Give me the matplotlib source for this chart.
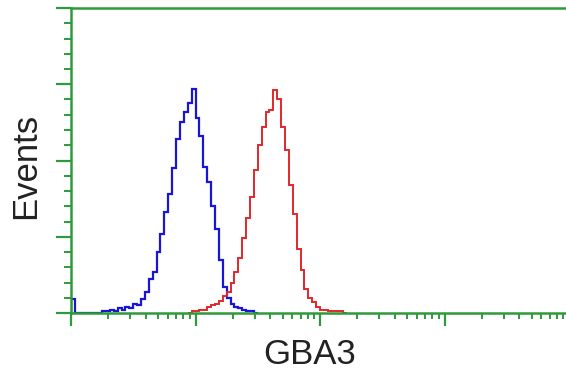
import numpy as np
import matplotlib
matplotlib.use("Agg")
import matplotlib.pyplot as plt
from matplotlib.ticker import LogLocator, MultipleLocator, NullFormatter

plt.rcParams['font.family'] = ['Liberation Sans', 'DejaVu Sans']

# Histogram: 128 log-spaced channels over 4 decades (1 .. 10^4)
n_channels = 128
decades = 4
# blue (control) counts: spike in first channel, then channels starting at 8
blue_spike = [9]
blue_start = 8
blue_counts = [1, 1, 2, 1, 3, 2, 4, 3, 6, 5, 9, 14, 22, 27, 40, 52, 66, 78, 95,
               114, 125, 132, 138, 147, 128, 116, 96, 86, 70, 55, 35, 17, 10, 6,
               4, 3, 2, 1, 1]
# red (GBA3) counts starting at channel 31
red_start = 31
red_counts = [1, 1, 2, 2, 4, 5, 6, 8, 11, 14, 20, 27, 36, 49, 62, 76, 94, 110,
              122, 132, 133, 146, 140, 122, 107, 84, 65, 42, 28, 16, 10, 7, 4,
              2, 2, 1, 1, 1, 1]

x_label = "GBA3"
y_label = "Events"

green = '#2f9a3a'
blue = '#1a14d8'
red = '#e0282a'

W, H = 566, 375
fig = plt.figure(figsize=(W / 100, H / 100), dpi=100)
left_px, right_px, top_px, bot_px = 71, 569, 8, 313
ax = fig.add_axes([left_px / W, 1 - bot_px / H, (right_px - left_px) / W,
                   (bot_px - top_px) / H])

edges = np.logspace(0, decades, n_channels + 1)

blue_full = np.zeros(n_channels)
blue_full[0:len(blue_spike)] = blue_spike
blue_full[blue_start:blue_start + len(blue_counts)] = blue_counts
red_full = np.zeros(n_channels)
red_full[red_start:red_start + len(red_counts)] = red_counts

b_end = blue_start + len(blue_counts) + 1
r_end = red_start + len(red_counts) + 1
ax.stairs(blue_full[:b_end], edges[:b_end + 1], color=blue, lw=1.6, zorder=2)
ax.stairs(red_full[red_start - 1:r_end], edges[red_start - 1:r_end + 1],
          color=red, lw=1.4, zorder=2)

ax.set_xscale('log')
ax.set_xlim(edges[0], edges[-1])
ax.set_ylim(0, 200)

ax.xaxis.set_major_locator(LogLocator(base=10, numticks=10))
ax.xaxis.set_minor_locator(LogLocator(base=10, subs=np.arange(2, 10), numticks=100))
ax.xaxis.set_major_formatter(NullFormatter())
ax.xaxis.set_minor_formatter(NullFormatter())
ax.yaxis.set_major_locator(MultipleLocator(50))
ax.yaxis.set_minor_locator(MultipleLocator(10))
ax.yaxis.set_major_formatter(NullFormatter())

ax.tick_params(axis='x', which='major', direction='out', length=9, width=1.6,
               color=green)
ax.tick_params(axis='x', which='minor', direction='out', length=4.5, width=1.4,
               color=green)
ax.tick_params(axis='y', which='major', direction='out', length=11, width=1.6,
               color=green)
ax.tick_params(axis='y', which='minor', direction='out', length=5, width=1.4,
               color=green)

for s in ['left', 'bottom', 'top']:
    ax.spines[s].set_color(green)
    ax.spines[s].set_linewidth(1.8)
ax.spines['right'].set_visible(False)

fig.text(310 / W, 1 - 355 / H, x_label, fontsize=25, color='#222222',
         ha='center', va='center')
fig.text(26 / W, 1 - 166 / H, y_label, fontsize=25, color='#222222',
         ha='center', va='center', rotation=90)

fig.savefig('out.png', dpi=100)
